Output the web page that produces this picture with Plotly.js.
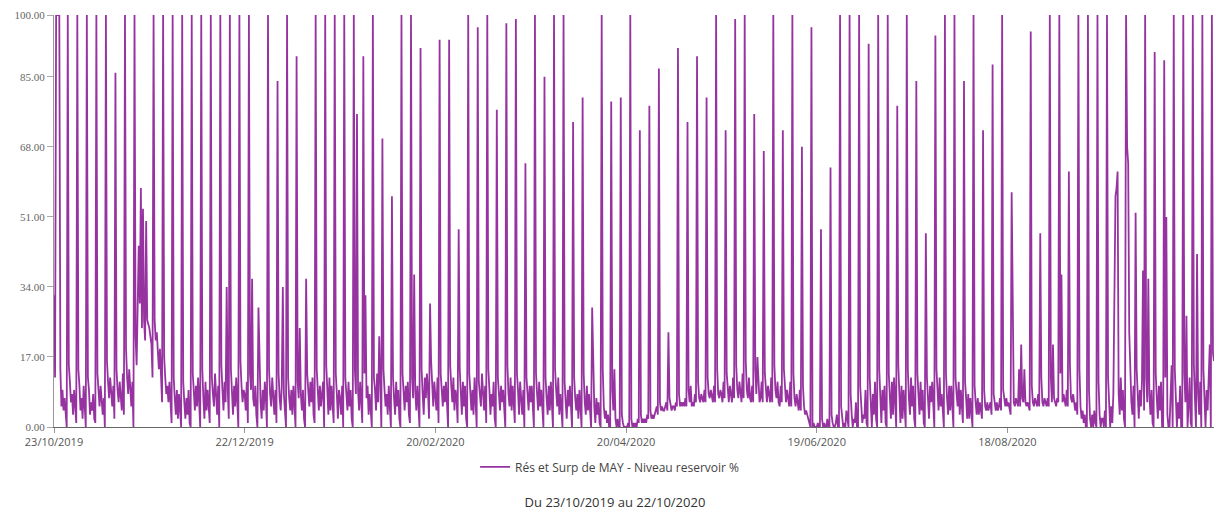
<!DOCTYPE html>
<html>
<head>
<meta charset="utf-8">
<script src="https://cdn.plot.ly/plotly-3.0.1.min.js"></script>
<style>
  html, body { margin: 0; padding: 0; background: #ffffff; }
  #chart { width: 1216px; height: 513px; }
</style>
</head>
<body>
<div id="chart"></div>
<script>
// Reservoir level (%), one reading every 8 hours starting 23/10/2019 00:00.
// Each array below holds 30 days (90 readings); the last one closes the year.
const seriesName = 'Rés et Surp de MAY - Niveau reservoir %';
const periodTitle = 'Du 23/10/2019 au 22/10/2020';
const startDate = Date.UTC(2019, 9, 23);
const stepHours = 8;

const level_20191023 = [
  32,12,100,100,100,100,14,5,9, 4,7,3,0,100,15,11,6,8, 3,9,5,1,100,14,10,4,7,
  2,10,6,0,100,12,9,3,6, 4,8,2,1,100,13,8,5,10, 6,3,7,0,100,16,11,7,12,
  8,5,10,2,86,14,9,6,11, 7,4,13,3,100,19,12,8,14, 9,5,11,0,100,22,15,28,44,
  30,58,24,53,26,21,50,26,25
];
const level_20191122 = [
  24,22,20,12,100,26,21,23,18, 14,19,9,6,100,17,12,8,10, 6,11,4,1,100,12,7,3,9,
  2,8,5,0,100,11,6,2,7, 3,9,1,0,100,13,8,4,10, 5,12,3,0,100,14,7,2,11,
  4,9,6,1,100,12,8,5,13, 7,3,10,0,100,15,9,4,11, 6,34,9,2,100,14,8,3,10,
  5,12,4,0,100,16,10,6,9
];
const level_20191222 = [
  8,4,11,1,100,13,9,36,7, 5,10,3,0,29,12,6,2,9, 4,11,7,0,100,14,8,5,12,
  6,3,9,1,84,13,7,4,10, 34,8,5,0,100,12,7,4,9, 3,10,6,0,90,11,7,24,8,
  4,9,2,0,36,13,8,5,11, 6,12,3,1,100,14,9,4,10, 5,8,11,0,100,15,7,3,12,
  4,10,6,1,100,13,8,2,9
];
const level_20200121 = [
  7,3,10,0,100,12,8,4,11, 5,9,2,0,100,14,8,76,9, 4,11,6,1,90,13,32,7,10,
  3,8,5,0,100,12,9,4,13, 6,22,7,0,70,14,9,5,8, 3,10,4,0,56,12,7,3,11,
  5,9,2,0,100,13,8,4,10, 6,11,3,1,100,12,7,37,9, 4,10,5,0,92,14,8,3,12,
  7,13,9,2,30,16,10,5,11
];
const level_20200220 = [
  8,4,12,1,94,13,9,5,10, 6,11,3,0,94,15,10,6,12, 4,9,7,1,48,14,8,3,11,
  5,10,2,0,100,13,7,4,9, 3,12,6,0,97,11,8,5,13, 7,4,10,1,100,14,9,3,8,
  5,11,2,0,77,12,7,4,10, 6,9,3,0,98,15,8,5,12, 4,10,6,1,99,13,9,3,11,
  7,3,9,0,64,12,8,4,10
];
const level_20200321 = [
  6,10,3,0,100,13,8,4,11, 5,9,2,0,85,12,7,3,10, 4,11,6,0,100,14,9,5,12,
  3,8,4,0,100,11,6,2,9, 5,10,3,0,74,12,7,4,8, 2,9,5,0,80,13,6,3,10,
  4,8,2,0,29,11,5,1,7, 3,6,1,0,100,14,5,2,4, 1,3,0,0,79,9,4,14,2,
  0,2,0,0,80,3,1,0,0
];
const level_20200420 = [
  0,0,1,0,100,2,0,1,0, 1,0,2,1,72,3,1,2,1, 2,1,3,2,78,4,2,3,2,
  3,4,5,3,87,6,4,5,4, 4,5,6,4,23,7,5,4,5, 5,4,6,5,92,8,5,6,5,
  6,5,7,5,74,9,6,10,5, 6,5,8,6,90,11,7,6,8, 7,6,9,6,80,12,8,7,9,
  7,6,10,6,100,14,8,7,9
];
const level_20200520 = [
  8,6,11,7,72,13,8,6,10, 7,6,12,7,99,15,9,7,11, 8,6,13,7,100,16,9,7,12,
  7,6,10,6,76,14,8,17,9, 6,7,11,6,67,13,8,6,10, 7,6,12,6,100,15,9,7,11,
  6,5,10,6,72,14,8,6,9, 6,5,11,5,100,13,7,5,8, 5,4,9,4,68,10,5,3,4,
  3,2,1,0,97,0,1,0,0
];
const level_20200619 = [
  0,1,0,0,48,2,0,1,0, 0,2,0,0,63,3,1,0,0, 1,3,0,0,100,5,2,0,1,
  0,4,1,0,100,8,3,0,2, 1,6,0,0,100,10,4,1,3, 2,9,1,0,93,12,5,0,8,
  3,11,2,0,100,14,6,1,9, 4,10,1,0,100,13,7,2,11, 3,12,5,0,78,15,8,1,10,
  2,9,4,0,100,14,7,3,12
];
const level_20200719 = [
  5,10,2,0,84,13,8,3,11, 4,9,1,0,47,12,6,2,10, 6,11,3,0,95,14,9,4,12,
  5,8,2,0,100,13,7,3,10, 4,10,6,0,100,12,8,5,11, 3,9,4,1,84,11,7,2,8,
  2,7,3,0,100,10,6,3,7, 3,6,4,2,72,9,5,4,6, 4,5,6,3,88,8,5,4,6,
  4,5,7,4,100,9,6,5,7
];
const level_20200818 = [
  5,6,4,3,57,19,6,5,7, 6,5,14,5,20,7,6,14,6, 5,6,5,4,96,10,6,5,7,
  6,5,8,5,47,12,6,5,7, 6,5,7,5,100,12,6,20,7, 6,5,7,6,100,13,37,6,8,
  6,5,9,5,62,15,7,6,8, 5,4,6,3,100,14,5,2,4, 1,3,0,0,100,9,2,0,3,
  0,4,1,0,100,11,3,0,2
];
const level_20200917 = [
  2,0,4,0,100,12,3,0,5, 1,8,31,56,58,62,8,3,12, 4,9,2,0,100,68,64,23,10,
  6,3,10,0,52,14,7,2,9, 5,11,38,4,100,12,6,36,8, 3,9,1,0,91,13,7,2,10,
  4,11,0,0,89,12,51,3,0, 0,9,15,0,100,14,8,0,6, 2,10,0,0,100,13,6,27,0,
  5,12,1,0,100,15,7,0,42
];
const level_20201017 = [
  8,3,11,0,100,14,6,0,9,4,12,20,0,100,18,16
];

// Axis labels
const xTickDates = ['2019-10-23', '2019-12-22', '2020-02-20', '2020-04-20', '2020-06-19', '2020-08-18'];
const xTickLabels = ['23/10/2019', '22/12/2019', '20/02/2020', '20/04/2020', '19/06/2020', '18/08/2020'];
const yTickValues = [0, 17, 34, 51, 68, 85, 100];
const yTickLabels = ['0.00', '17.00', '34.00', '51.00', '68.00', '85.00', '100.00'];

const levels = [].concat(
  level_20191023, level_20191122, level_20191222, level_20200121,
  level_20200220, level_20200321, level_20200420, level_20200520,
  level_20200619, level_20200719, level_20200818, level_20200917,
  level_20201017
);

function stamp(i) {
  const d = new Date(startDate + i * stepHours * 3600 * 1000);
  return d.toISOString().slice(0, 19).replace('T', ' ');
}
const times = levels.map((_, i) => stamp(i));

const trace = {
  type: 'scatter',
  mode: 'lines',
  name: seriesName,
  x: times,
  y: levels,
  line: { color: '#9633a0', width: 1.8 },
  hoverinfo: 'x+y'
};

const layout = {
  width: 1216,
  height: 513,
  margin: { l: 54, r: 2, t: 15, b: 86 },
  paper_bgcolor: '#ffffff',
  plot_bgcolor: '#ffffff',
  showlegend: true,
  legend: {
    orientation: 'h',
    x: 0.363,
    xanchor: 'left',
    y: -0.097,
    yanchor: 'middle',
    itemwidth: 30,
    font: { family: 'Open Sans, sans-serif', size: 12, color: '#444444' },
    bgcolor: 'rgba(0,0,0,0)'
  },
  title: {
    text: periodTitle,
    font: { family: 'Open Sans, sans-serif', size: 13, color: '#333333' },
    x: 0.4836,
    xref: 'paper',
    xanchor: 'center',
    y: 0.02,
    yref: 'container',
    yanchor: 'middle'
  },
  xaxis: {
    type: 'date',
    range: ['2019-10-23', '2020-10-22'],
    tickmode: 'array',
    tickvals: xTickDates,
    ticktext: xTickLabels,
    ticks: 'outside',
    ticklen: 5,
    tickcolor: '#999999',
    showgrid: false,
    zeroline: false,
    showline: true,
    linecolor: '#666666',
    linewidth: 1,
    tickfont: { family: 'Open Sans, sans-serif', size: 11, color: '#555555' }
  },
  yaxis: {
    range: [0, 100],
    tickmode: 'array',
    tickvals: yTickValues,
    ticktext: yTickLabels,
    ticks: 'outside',
    ticklen: 6,
    tickcolor: '#aaaaaa',
    showgrid: false,
    zeroline: false,
    showline: true,
    linecolor: '#999999',
    linewidth: 1,
    tickfont: { family: 'Liberation Serif, serif', size: 11, color: '#666666' }
  }
};

Plotly.newPlot('chart', [trace], layout, { displayModeBar: false, staticPlot: true });
</script>
</body>
</html>
